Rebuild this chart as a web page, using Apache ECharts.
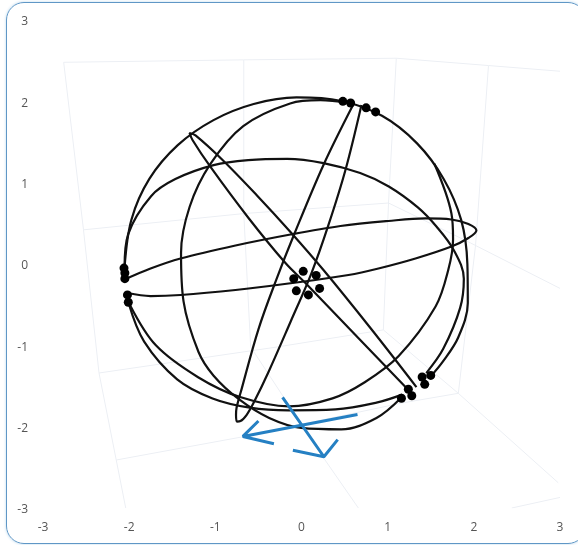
<!DOCTYPE html>
<html>
<head>
<meta charset="utf-8">
<title>Sphere</title>
<script src="https://cdn.jsdelivr.net/npm/echarts@6/dist/echarts.min.js"></script>
<style>
html, body { margin: 0; padding: 0; background: #fff; overflow: hidden; }
#frame { position: absolute; left: 6px; top: 2px; width: 578px; height: 540px; border: 1.5px solid #5f97c6; border-radius: 18px; box-shadow: 0 0 3px #bcd9ee; }
#main { position: absolute; left: 0; top: 0; width: 578px; height: 545px; }
</style>
</head>
<body>
<div id="frame"></div>
<div id="main"></div>
<script>
const tickLabels = [-3, -2, -1, 0, 1, 2, 3]

// faint box edges behind the sphere
const wallTop = [[-2.76,2.48],[-0.67,2.51],[1.10,2.53],[2.17,2.44],[3.00,2.37]]
const wallLeft = [[-2.76,2.48],[-2.53,0.42],[-2.35,-1.34],[-2.15,-2.41],[-2.04,-3.00]]
const wallMid = [[-2.53,0.42],[-0.67,0.62],[1.01,0.75],[1.96,0.26],[3.00,-0.30]]
const wallRow3 = [[-2.35,-1.34],[-0.28,-1.02],[0.95,-0.81],[1.82,-1.59],[2.98,-2.69]]
const wallRow4 = [[-2.15,-2.41],[-0.71,-2.13],[1.16,-1.71],[1.82,-1.59]]
const wallV1 = [[-0.67,2.51],[-0.67,0.62],[-0.59,-1.02],[0.26,-2.39],[0.66,-3.00]]
const wallV2 = [[1.10,2.53],[1.01,0.75],[0.95,-0.81]]
const wallV3 = [[2.17,2.44],[2.02,0.23],[1.82,-1.59]]
const wallCorner = [[2.44,-3.00],[3.00,-2.87]]

// big circles
const arcOuter = [[-2.053,-0.037],[-1.974,0.545],[-1.766,1.046],[-1.436,1.461],[-1.021,1.769],[-0.555,1.967],[-0.058,2.048],[0.449,2.007],[0.934,1.822],[1.341,1.483],[1.650,1.046],[1.853,0.542],[1.925,0],[1.930,-0.480],[1.820,-0.900],[1.640,-1.200],[1.497,-1.384]]
const arcLeftBottom = [[0.545,1.983],[0.220,2.014],[-0.132,1.974],[-0.676,1.696],[-1.057,1.230],[-1.298,0.704],[-1.398,0.135],[-1.369,-0.460],[-1.195,-1.082],[-1.020,-1.373],[-0.727,-1.662],[-0.375,-1.893],[-0.003,-2.015],[0.462,-2.033],[0.870,-1.893],[1.148,-1.654]]
const arcBottomRight = [[-1.988,-0.510],[-1.690,-1.000],[-1.200,-1.392],[-0.713,-1.636],[-0.145,-1.750],[0.360,-1.652],[0.734,-1.454],[1.128,-1.132],[1.556,-0.523],[1.705,-0.065],[1.759,0.305],[1.740,0.620],[1.542,1.232]]
const arcMiddle = [[-2.053,-0.037],[-2.012,0.365],[-1.746,0.834],[-1.464,1.044],[-1.020,1.215],[-0.619,1.277],[-0.165,1.293],[0.255,1.241],[0.681,1.118],[1.013,0.953],[1.350,0.696],[1.566,0.461],[1.768,0.170],[1.884,-0.180],[1.841,-0.540],[1.645,-1.043],[1.448,-1.341]]
const arcLower = [[-2.007,-0.480],[-1.826,-0.954],[-1.443,-1.418],[-1.032,-1.653],[-0.600,-1.766],[-0.147,-1.799],[0.394,-1.788],[0.870,-1.705],[1.168,-1.606]]

// thin ellipses
const ellipseFlat = [[-2.042,-0.185],[-1.752,-0.055],[-1.404,0.068],[-0.766,0.228],[-0.128,0.363],[0.452,0.467],[1.009,0.529],[1.439,0.560],[1.740,0.547],[1.937,0.492],[2.030,0.412],[1.937,0.320],[1.740,0.215],[1.323,0.068],[0.893,-0.055],[0.545,-0.135],[-0.151,-0.240],[-0.766,-0.320],[-1.404,-0.381],[-1.752,-0.394],[-2.019,-0.357]]
const ellipseDiag = [[1.218,-1.525],[0.626,-0.873],[0.046,-0.234],[-0.186,0.012],[-0.615,0.566],[-1.056,1.193],[-1.265,1.525],[-1.299,1.611],[-1.230,1.581],[-0.916,1.279],[-0.522,0.849],[-0.128,0.394],[0.255,-0.074],[0.800,-0.787],[1.334,-1.513]]
const ellipseSteep = [[0.696,1.956],[0.510,1.156],[0.313,0.480],[0.116,-0.111],[-0.128,-0.713],[-0.383,-1.328],[-0.557,-1.710],[-0.638,-1.857],[-0.708,-1.931],[-0.748,-1.937],[-0.760,-1.857],[-0.754,-1.771],[-0.708,-1.587],[-0.499,-0.800],[-0.290,-0.185],[-0.093,0.344],[0.255,1.218],[0.592,1.943]]

const dotsCenter = [[0.02,-0.09],[0.17,-0.14],[0.21,-0.30],[0.08,-0.38],[-0.06,-0.33],[-0.09,-0.18]]
const dotsLowerRight = [[1.16,-1.65],[1.24,-1.54],[1.28,-1.62],[1.40,-1.39],[1.43,-1.48],[1.50,-1.37]]
const dotsTop = [[0.48,2.00],[0.57,1.98],[0.75,1.92],[0.86,1.87]]
const dotsLeft = [[-2.06,-0.05],[-2.05,-0.11],[-2.05,-0.18],[-2.02,-0.38],[-2.01,-0.47]]

// blue arrows: shaft start, tip, head end, tip, head end
const arrowLeft = [[0.65,-1.85],[-0.68,-2.12],[-0.50,-1.93],[-0.68,-2.12],[-0.32,-2.21]]
const arrowDown = [[-0.22,-1.64],[0.26,-2.37],[-0.10,-2.29],[0.26,-2.37],[0.42,-2.16]]

const walls = [wallTop, wallLeft, wallMid, wallRow3, wallRow4, wallV1, wallV2, wallV3, wallCorner]
const curves = [arcOuter, arcLeftBottom, arcBottomRight, arcMiddle, arcLower, ellipseFlat, ellipseDiag, ellipseSteep]
const arrows = [arrowLeft, arrowDown]
const dots = [dotsCenter, dotsLowerRight, dotsTop, dotsLeft]

var chart = echarts.init(document.getElementById('main'), null, { width: 578, height: 545 })

var series = []
walls.forEach(function (d) {
	series.push({ type: 'line', data: d, symbol: 'none', z: 1, lineStyle: { width: 1, color: '#eceff4' } })
})
curves.forEach(function (d) {
	series.push({ type: 'line', data: d, symbol: 'none', smooth: 0.35, z: 3, lineStyle: { width: 2.2, color: '#111' } })
})
arrows.forEach(function (d) {
	series.push({ type: 'line', data: d, symbol: 'none', z: 4, lineStyle: { width: 3, color: '#2580c3' } })
})
dots.forEach(function (d) {
	series.push({ type: 'scatter', data: d, symbol: 'circle', symbolSize: 9, z: 5, itemStyle: { color: '#000', opacity: 1 } })
})

var axisBase = {
	type: 'value',
	min: tickLabels[0],
	max: tickLabels[tickLabels.length - 1],
	interval: 1,
	axisTick: { show: false },
	splitLine: { show: false }
}

chart.setOption({
	animation: false,
	backgroundColor: 'transparent',
	tooltip: { show: false },
	grid: { left: 43, top: 20, width: 517, height: 488 },
	xAxis: Object.assign({}, axisBase, {
		axisLine: { show: false, onZero: false },
		axisLabel: { margin: 14, fontSize: 12, color: '#555', fontFamily: 'Open Sans' }
	}),
	yAxis: Object.assign({}, axisBase, {
		axisLine: { show: false, onZero: false },
		axisLabel: {
			margin: 15,
			formatter: '{a|{value}}',
			rich: { a: { fontSize: 12, color: '#555', fontFamily: 'Open Sans', padding: [4, 0, 0, 0] } }
		}
	}),
	series: series
})
</script>
</body>
</html>
